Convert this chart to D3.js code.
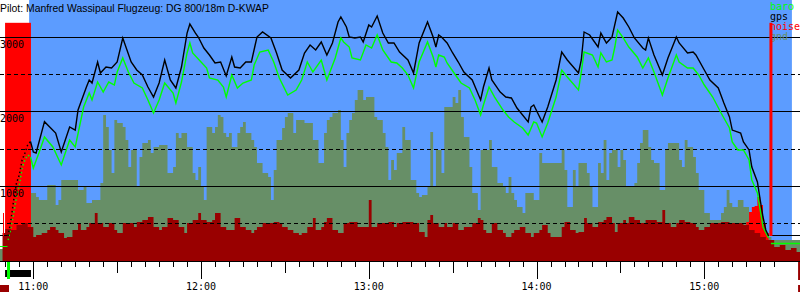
<!DOCTYPE html>
<html><head><meta charset="utf-8">
<script src="https://cdn.jsdelivr.net/npm/d3@7"></script>
<style>html,body{margin:0;padding:0;background:#fff;}svg{display:block;}</style>
</head><body>
<svg id="c" width="800" height="300"></svg>
<script>
// ---------- data ----------
const title = "Pilot: Manfred Wassipaul Flugzeug: DG 800/18m D-KWAP";
const legendLabels = ["baro", "gps", "noise", "gnd"];
const yLabelValues = [1000, 2000, 3000];
const gridSolid = [1000, 2000, 3000];
const gridDashed = [500, 1500, 2500];
const hourLabels = ["11:00", "12:00", "13:00", "14:00", "15:00"];

const releaseTime = "10:59";
const gpsTimes = ["10:51","10:52","10:53","10:54","10:55","10:56","10:57","10:58","10:59","11:00","11:01","11:04","11:08","11:10","11:13","11:15","11:16","11:19","11:20","11:21","11:23","11:24","11:26","11:28","11:30","11:32","11:35","11:37","11:39","11:41","11:43","11:45","11:47","11:49","11:51","11:53","11:55","11:56","11:58","11:59","12:01","12:03","12:05","12:07","12:09","12:11","12:12","12:14","12:16","12:18","12:20","12:22","12:25","12:27","12:29","12:32","12:35","12:37","12:39","12:41","12:43","12:45","12:47","12:49","12:50","12:52","12:53","12:55","12:57","12:58","13:00","13:01","13:03","13:05","13:07","13:09","13:11","13:14","13:16","13:18","13:21","13:23","13:24","13:25","13:26","13:28","13:30","13:32","13:34","13:37","13:40","13:41","13:43","13:44","13:47","13:49","13:51","13:53","13:57","13:58","13:59","14:02","14:04","14:07","14:09","14:11","14:15","14:16","14:17","14:19","14:22","14:23","14:25","14:27","14:29","14:31","14:33","14:35","14:38","14:39","14:40","14:42","14:45","14:47","14:50","14:51","14:54","14:56","14:57","15:00","15:02","15:05","15:07","15:09","15:10","15:13","15:14","15:16","15:17","15:19","15:20","15:21","15:22","15:23"];
const gpsAlt = [335,549,817,1045,1152,1353,1446,1554,1600,1460,1446,1866,1714,1460,1795,1754,2022,2330,2424,2384,2665,2518,2598,2585,2665,2987,2665,2558,2491,2330,2196,2384,2692,2424,2317,2598,3053,3174,3053,3000,2852,2759,2652,2665,2478,2732,2598,2585,2665,2665,3000,3067,2987,2786,2558,2451,2558,2786,2893,2826,2933,2759,2920,3201,3268,3134,3000,2987,3000,2933,3161,3134,3281,3053,2920,2920,2799,2692,2518,2920,3201,3000,2866,3027,3000,2920,2786,2665,2531,2424,2156,2330,2585,2424,2263,2196,2183,2049,1862,2062,2089,1862,2062,2424,2799,2692,2518,2692,3067,3027,2866,3053,2920,3000,3335,3254,3134,2987,2852,2826,2987,2759,2491,2719,3000,2920,2786,2799,2759,2558,2424,2317,2116,1929,1754,1714,1594,1487,1259,1058,817,589,415,335];

const baroTimes = ["10:51","10:52","10:53","10:54","10:55","10:56","10:57","10:58","10:59","11:00","11:02","11:04","11:07","11:10","11:13","11:15","11:18","11:20","11:21","11:23","11:25","11:27","11:29","11:30","11:32","11:34","11:36","11:39","11:41","11:43","11:45","11:47","11:50","11:51","11:53","11:55","11:56","11:57","12:00","12:02","12:03","12:06","12:08","12:09","12:11","12:13","12:15","12:18","12:19","12:21","12:24","12:26","12:28","12:31","12:34","12:36","12:38","12:40","12:43","12:45","12:48","12:50","12:51","12:53","12:54","12:57","12:59","13:01","13:03","13:05","13:08","13:10","13:12","13:14","13:16","13:18","13:21","13:23","13:24","13:25","13:27","13:28","13:31","13:33","13:36","13:38","13:40","13:41","13:43","13:45","13:48","13:50","13:52","13:55","13:57","13:59","14:00","14:02","14:04","14:07","14:09","14:11","14:15","14:16","14:17","14:20","14:22","14:23","14:25","14:27","14:28","14:29","14:31","14:33","14:36","14:38","14:40","14:42","14:45","14:47","14:50","14:51","14:54","14:56","14:58","15:00","15:03","15:06","15:09","15:10","15:12","15:14","15:16","15:17","15:19","15:20","15:21","15:23"];
const baroAlt = [281,442,643,857,1018,1245,1353,1420,1393,1245,1446,1661,1527,1286,1620,1527,2062,2250,2156,2397,2263,2397,2357,2531,2719,2531,2384,2317,2156,1982,2156,2384,2250,2116,2397,2786,2920,2786,2665,2585,2451,2424,2330,2196,2491,2317,2384,2424,2625,2799,2826,2665,2451,2223,2290,2424,2665,2531,2692,2424,2719,2987,2933,2866,2719,2692,2893,2852,3027,2826,2665,2652,2585,2491,2317,2665,2933,2732,2598,2759,2732,2652,2491,2384,2317,2156,1955,2089,2330,2196,2022,1929,1862,1781,1687,1862,1848,1661,1848,2196,2558,2464,2290,2531,2799,2759,2598,2786,2665,2692,2866,3094,2987,2866,2732,2585,2719,2531,2223,2451,2759,2665,2585,2585,2491,2357,2196,1982,1781,1594,1487,1487,1353,1085,911,683,455,308];

const gndTimes = ["10:48","10:50","10:59","11:01","11:02","11:05","11:07","11:08","11:09","11:10","11:12","11:15","11:16","11:18","11:19","11:21","11:23","11:24","11:25","11:26","11:27","11:28","11:29","11:30","11:32","11:33","11:34","11:35","11:37","11:38","11:39","11:41","11:42","11:43","11:45","11:47","11:48","11:50","11:51","11:52","11:53","11:54","11:55","11:57","11:58","11:59","12:00","12:01","12:02","12:04","12:05","12:06","12:07","12:08","12:09","12:10","12:11","12:13","12:14","12:15","12:16","12:18","12:19","12:20","12:22","12:24","12:25","12:26","12:27","12:29","12:30","12:31","12:33","12:34","12:35","12:37","12:38","12:40","12:42","12:44","12:45","12:46","12:47","12:49","12:50","12:51","12:52","12:53","12:54","12:55","12:56","12:58","12:59","13:00","13:01","13:02","13:03","13:05","13:06","13:07","13:08","13:09","13:10","13:12","13:13","13:14","13:15","13:17","13:18","13:19","13:21","13:22","13:23","13:24","13:26","13:27","13:28","13:30","13:31","13:32","13:33","13:34","13:36","13:37","13:39","13:40","13:42","13:43","13:44","13:46","13:48","13:49","13:50","13:51","13:52","13:53","13:55","13:56","13:58","13:59","14:01","14:02","14:04","14:06","14:07","14:09","14:10","14:11","14:13","14:14","14:15","14:17","14:18","14:19","14:20","14:22","14:23","14:24","14:25","14:26","14:27","14:29","14:30","14:31","14:32","14:33","14:35","14:36","14:37","14:38","14:40","14:41","14:42","14:44","14:46","14:47","14:49","14:51","14:52","14:53","14:54","14:56","14:57","14:58","15:00","15:02","15:04","15:06","15:07","15:08","15:09","15:10","15:12","15:14","15:16","15:17","15:19","15:21","15:23","15:24","15:35"];
const gndAlt = [160,160,911,857,817,1018,1018,750,817,1085,1085,1085,951,991,777,817,817,1045,1955,1795,1487,1178,1888,1848,1795,1620,1259,1487,991,1393,1580,1620,1446,1527,1553,1553,1178,1259,1714,1647,1714,1714,1527,1178,1085,1259,991,817,1795,1714,1795,1955,1928,1714,1661,1714,1527,1714,1795,1862,1714,1620,1527,1312,1178,1125,817,1219,1620,1781,1928,1982,1714,1888,1888,1848,1848,1620,1312,1714,1888,1928,1982,2022,1620,1259,1714,1888,1982,2156,2290,2156,2196,2196,2196,1928,1888,1714,1527,1085,1353,1219,1446,1795,1620,1620,1085,911,857,884,991,1727,991,1487,1178,2062,2062,2196,2116,2290,1928,1661,1259,911,683,1487,1487,1620,1259,1045,991,911,1125,911,817,723,643,911,911,817,1446,1312,1312,1312,1312,1487,1219,723,1219,991,1312,1312,1178,991,723,1312,1178,1620,1085,1446,1487,1259,1487,1353,991,991,1045,1312,1580,1754,1527,1353,1312,951,1487,1580,1580,1353,1259,1620,1527,1393,1178,951,643,549,549,643,723,951,777,723,817,723,455,415,375,375,321,281,281];

const noiseTimes = ["10:49","10:50","10:52","10:54","10:56","10:58","11:00","11:01","11:03","11:05","11:06","11:08","11:09","11:11","11:12","11:14","11:16","11:17","11:19","11:20","11:22","11:23","11:25","11:27","11:29","11:30","11:32","11:34","11:36","11:37","11:39","11:41","11:43","11:45","11:46","11:48","11:50","11:52","11:54","11:55","11:57","11:59","12:00","12:02","12:04","12:05","12:07","12:09","12:10","12:12","12:14","12:16","12:18","12:19","12:20","12:22","12:24","12:26","12:28","12:29","12:31","12:33","12:35","12:36","12:38","12:40","12:41","12:43","12:44","12:45","12:47","12:49","12:51","12:53","12:54","12:56","12:58","12:59","13:00","13:01","13:03","13:05","13:07","13:09","13:10","13:12","13:14","13:16","13:18","13:20","13:21","13:22","13:23","13:25","13:27","13:28","13:30","13:32","13:34","13:35","13:37","13:39","13:40","13:41","13:42","13:44","13:46","13:48","13:49","13:51","13:52","13:54","13:56","13:58","13:59","14:01","14:02","14:04","14:05","14:07","14:09","14:10","14:12","14:14","14:15","14:17","14:18","14:20","14:22","14:24","14:25","14:27","14:28","14:29","14:31","14:32","14:33","14:35","14:37","14:39","14:41","14:43","14:45","14:46","14:48","14:50","14:51","14:53","14:55","14:57","14:58","15:00","15:02","15:04","15:06","15:07","15:09","15:11","15:13","15:14","15:16","15:18","15:20","15:22","15:24","15:25","15:27","15:29","15:31","15:33","15:35"];
const noiseLevel = [375,430,415,482,509,455,321,348,375,415,455,415,375,308,321,415,509,415,455,509,643,509,455,509,415,375,509,509,455,522,549,589,455,415,455,576,549,455,375,509,549,643,549,522,549,643,455,415,415,576,455,415,375,415,455,509,509,522,509,455,415,375,348,375,455,576,415,455,522,576,415,375,509,522,522,455,455,455,817,455,509,509,522,455,509,522,522,509,388,321,549,616,509,455,509,455,509,415,455,455,509,576,549,415,375,509,415,375,321,375,415,455,375,321,375,415,482,375,321,321,455,522,415,375,388,576,509,455,522,549,589,509,388,509,549,509,589,549,509,549,549,522,683,509,455,509,549,522,509,455,415,455,509,509,522,522,509,509,509,482,415,375,321,281,281,187,214,147,174,120,120];

const engineTimes = ["15:13","15:14","15:15","15:16","15:17","15:18","15:19","15:20","15:21","15:22","15:23"];
const engineLevel = [0,482,522,656,723,736,857,750,509,375,0];

const towStart = "10:49:54", towEnd = "10:59:10";
const skyStart = "10:58:30", skyEnd = "15:31:20";
const takeoffMark = "10:51:08", landingMark = "15:23:50", endMark = "15:33:54", noiseMark = "10:49:10";
const noiseFullScale = 3190;
const fieldGpsStart = 335, fieldBaroStart = 200, fieldGpsEnd = 335, fieldBaroEnd = 228;
const noiseMarkTop = 643;

// ---------- chart ----------
const W = 800, H = 300;
const svg = d3.select("#c");
const pt = d3.timeParse("%H:%M"), pts = d3.timeParse("%H:%M:%S");
const x = d3.scaleTime().domain([pt("11:00"), pt("15:00")]).range([33.3, 704.3]);
const y = d3.scaleLinear().domain([0, 3000]).range([261, 37]);
const base = y(0);

const C = {sky:"#5c9cff", gnd:"#678f67", noise:"#990000", engine:"#ff0000", baro:"#00ff00", gps:"#000000"};

// sky
svg.append("rect").attr("x", x(pts(skyStart))).attr("y", 0)
  .attr("width", x(pts(skyEnd)) - x(pts(skyStart))).attr("height", base).attr("fill", C.sky);

// ground
const zip = (ts, vs) => ts.map((t, i) => ({t: pt(t), v: vs[i]}));
const area = d3.area().x(d => x(d.t)).y0(base).y1(d => y(d.v)).curve(d3.curveStepAfter);
svg.append("path").datum(zip(gndTimes, gndAlt)).attr("d", area).attr("fill", C.gnd);

// tow noise block
svg.append("rect").attr("x", x(pts(towStart))).attr("y", y(noiseFullScale))
  .attr("width", x(pts(towEnd)) - x(pts(towStart))).attr("height", base - y(noiseFullScale)).attr("fill", C.engine);

// engine noise & noise
svg.append("path").datum(zip(engineTimes, engineLevel)).attr("d", area).attr("fill", C.engine);
svg.append("path").datum(zip(noiseTimes, noiseLevel)).attr("d", area).attr("fill", C.noise);

// grid
const gy = v => Math.floor(y(v)) + 0.5;
svg.selectAll(".gs").data(gridSolid).join("line").attr("x1", 0).attr("x2", W)
  .attr("y1", gy).attr("y2", gy).attr("stroke", "#000").attr("stroke-width", 1);
svg.selectAll(".gd").data(gridDashed).join("line").attr("x1", 0).attr("x2", W)
  .attr("y1", gy).attr("y2", gy).attr("stroke", "#000").attr("stroke-width", 1).attr("stroke-dasharray", "4,3");

// lines
const line = d3.line().x(d => x(d.t)).y(d => y(d.v));
const rel = pt(releaseTime);
function drawSeries(ts, vs, color) {
  const d = zip(ts, vs);
  svg.append("path").datum(d.filter(p => p.t <= rel)).attr("d", line).attr("fill", "none")
    .attr("stroke", color).attr("stroke-width", 1.5).attr("stroke-dasharray", "1.5,2.5");
  svg.append("path").datum(d.filter(p => p.t >= rel)).attr("d", line).attr("fill", "none")
    .attr("stroke", color).attr("stroke-width", 1.4);
}
drawSeries(baroTimes, baroAlt, C.baro);
drawSeries(gpsTimes, gpsAlt, C.gps);

// field elevation marks
const xTo = x(pts(takeoffMark)), xLd = x(pts(landingMark));
svg.append("line").attr("x1", 0).attr("x2", xTo - 1).attr("y1", Math.floor(y(fieldGpsStart)) + 0.5).attr("y2", Math.floor(y(fieldGpsStart)) + 0.5).attr("stroke", C.gps);
svg.append("line").attr("x1", 0).attr("x2", xTo - 1).attr("y1", Math.floor(y(fieldBaroStart)) + 0.5).attr("y2", Math.floor(y(fieldBaroStart)) + 0.5).attr("stroke", C.baro);
svg.append("line").attr("x1", xLd).attr("x2", W).attr("y1", Math.floor(y(fieldGpsEnd)) + 0.5).attr("y2", Math.floor(y(fieldGpsEnd)) + 0.5).attr("stroke", C.gps);
svg.append("line").attr("x1", xLd).attr("x2", W).attr("y1", Math.floor(y(fieldBaroEnd)) + 0.5).attr("y2", Math.floor(y(fieldBaroEnd)) + 0.5).attr("stroke", C.baro).attr("stroke-width", 1.5);
svg.append("line").attr("x1", Math.round(x(pts(noiseMark))) + 0.5).attr("x2", Math.round(x(pts(noiseMark))) + 0.5)
  .attr("y1", y(noiseMarkTop)).attr("y2", y(fieldGpsStart)).attr("stroke", C.engine);

// title
svg.append("text").attr("x", 0).attr("y", 12).text(title)
  .attr("font-family", "Liberation Sans, Arial, sans-serif").attr("font-size", 10.4).attr("fill", "#000");

// legend
const legColors = [C.baro, C.gps, C.engine, C.gnd];
svg.selectAll(".leg").data(legendLabels).join("text")
  .attr("x", 770).attr("y", (d, i) => 10 + i * 10).text(d => d)
  .attr("font-family", "DejaVu Sans Mono, monospace").attr("font-size", 10)
  .attr("fill", (d, i) => legColors[i]);

// landing line (over legend)
svg.append("line").attr("x1", xLd).attr("x2", xLd).attr("y1", y(noiseFullScale)).attr("y2", y(fieldGpsEnd))
  .attr("stroke", C.engine).attr("stroke-width", 3);

// y labels
svg.selectAll(".yl").data(yLabelValues).join("text")
  .attr("x", 0).attr("y", v => Math.floor(y(v)) + 10.5).text(v => v)
  .attr("font-family", "DejaVu Sans Mono, monospace").attr("font-size", 10).attr("fill", "#000");

// x axis
svg.append("line").attr("x1", 0).attr("x2", W).attr("y1", base + 0.5).attr("y2", base + 0.5).attr("stroke", "#000");
const ticks = d3.timeMinute.every(5).range(pt("10:50"), pt("15:30"));
svg.selectAll(".tk").data(ticks).join("line")
  .attr("x1", d => Math.round(x(d)) + 0.5).attr("x2", d => Math.round(x(d)) + 0.5)
  .attr("y1", base).attr("y2", d => base + (d.getMinutes() === 0 ? 18 : d.getMinutes() === 30 ? 12 : 6))
  .attr("stroke", "#000");
svg.selectAll(".xl").data(hourLabels).join("text")
  .attr("x", d => x(pt(d))).attr("y", 290).attr("text-anchor", "middle").text(d => d)
  .attr("font-family", "DejaVu Sans Mono, monospace").attr("font-size", 10).attr("fill", "#000");

// bottom markers
svg.append("rect").attr("x", x(pts(towStart))).attr("y", 270)
  .attr("width", x(pts(towEnd)) - x(pts(towStart))).attr("height", 7).attr("fill", "#000");
svg.append("rect").attr("x", xTo - 1.5).attr("y", base + 1).attr("width", 3).attr("height", 17).attr("fill", C.baro);
svg.append("rect").attr("x", x(pts(endMark)) - 1).attr("y", base + 1).attr("width", 2).attr("height", 18).attr("fill", C.noise);
svg.append("rect").attr("x", 0).attr("y", 285).attr("width", 9).attr("height", 7).attr("fill", C.noise);
svg.append("rect").attr("x", x(pts(endMark)) - 1).attr("y", 285).attr("width", 3).attr("height", 7).attr("fill", C.noise);
</script>
</body></html>
